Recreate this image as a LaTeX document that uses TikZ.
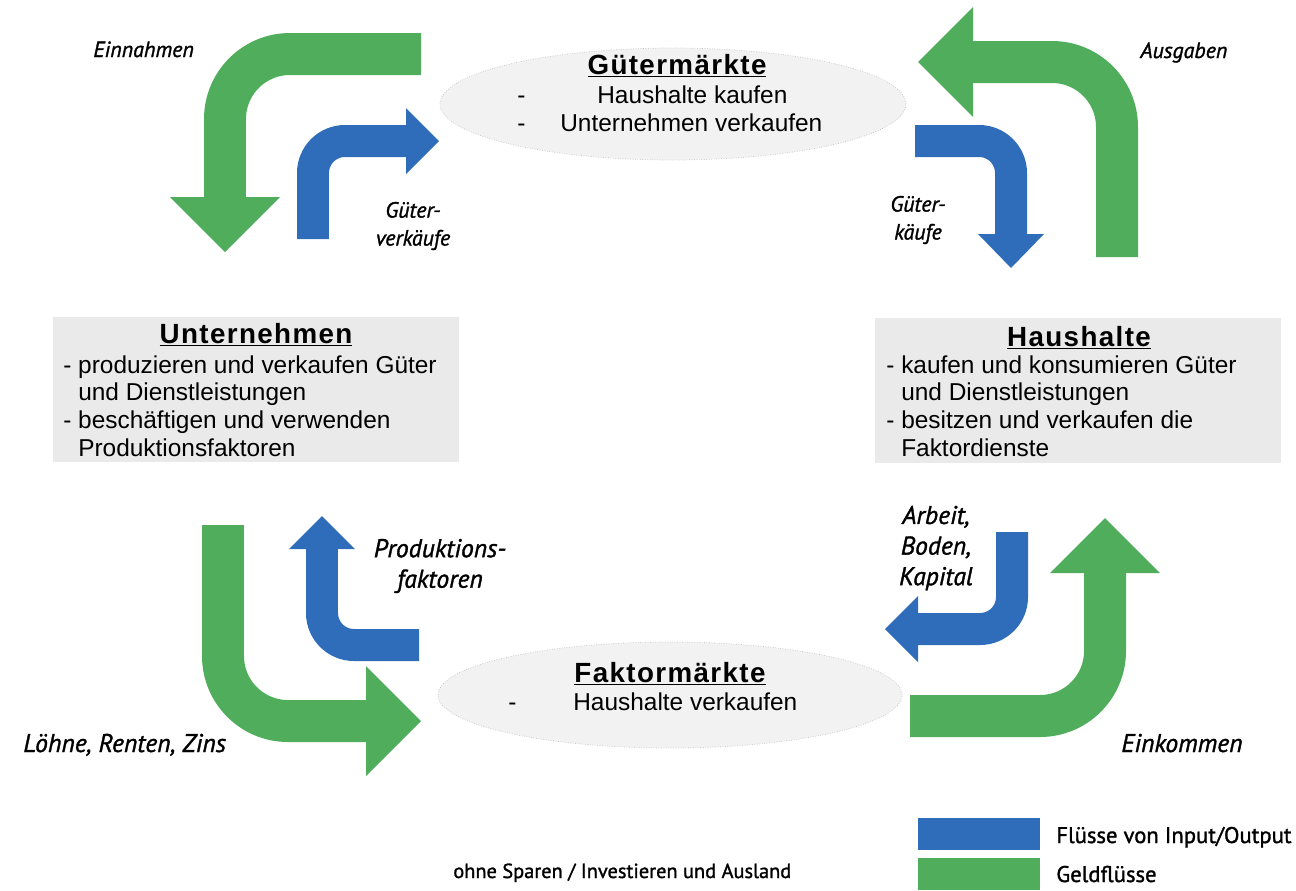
\documentclass[tikz,border=0pt]{standalone}
\usepackage{fontspec}
\setmainfont{Liberation Sans}
\newfontfamily\gillfont{PT Sans}[FakeBold=1.3]
\newfontfamily\titlefont{Liberation Sans}[LetterSpace=5]
\usetikzlibrary{calc,positioning,shapes.geometric}
\definecolor{geldgreen}{HTML}{4FAD5B}
\definecolor{flowblue}{HTML}{2F6DBA}
\definecolor{boxgray}{HTML}{EAEAEA}
\definecolor{marktgray}{HTML}{F2F2F2}

\begin{document}
\begin{tikzpicture}[
  x=0.02cm,y=-0.02cm,
  geld/.style={draw=geldgreen,line width=0.84cm,rounded corners=1.3cm},
  flow/.style={draw=flowblue,line width=0.64cm,rounded corners=0.64cm},
  geldhead/.style={fill=geldgreen},
  flowhead/.style={fill=flowblue},
  markt/.style={ellipse,fill=marktgray,draw=black!25,densely dotted,inner sep=0pt},
  sektor/.style={rectangle,fill=boxgray,inner sep=0pt,minimum width=8.12cm,minimum height=2.9cm},
  titel/.style={font=\titlefont\bfseries\fontsize{15.8}{17}\selectfont,inner sep=0pt,anchor=base},
  body/.style={font=\fontsize{13.9}{15.5}\selectfont,inner sep=0pt,anchor=base west},
  klein/.style={font=\gillfont\itshape\fontsize{12.5}{15.9}\selectfont,inner sep=0pt,align=center},
  gross/.style={font=\gillfont\itshape\fontsize{14.6}{17.4}\selectfont,inner sep=0pt,align=center},
  legende/.style={font=\gillfont\fontsize{12.9}{15}\selectfont,inner sep=0pt,anchor=base west},
  ]

  \useasboundingbox (0,0) rectangle (1296,890);

  %maerkte
  \node (gm) [markt,minimum width=9.32cm,minimum height=2.24cm] at (673,104) {};
  \node (gm_titel) [titel] at (677,74) {\underline{Gütermärkte}};
  \node (gm_d1) [body] at (517,103) {-};
  \node (gm_l1) [body] at (597,103) {Haushalte kaufen};
  \node (gm_d2) [body] at (517,131) {-};
  \node (gm_l2) [body] at (560,131) {Unternehmen verkaufen};

  \node (fm) [markt,minimum width=9.28cm,minimum height=2.12cm] at (670,695) {};
  \node (fm_titel) [titel] at (670,682) {\underline{Faktormärkte}};
  \node (fm_d1) [body] at (508,710) {-};
  \node (fm_l1) [body] at (573,710) {Haushalte verkaufen};

  %sektoren
  \node (untern) [sektor] at (256,389.5) {};
  \node (untern_titel) [titel] at (256,343) {\underline{Unternehmen}};
  \foreach \zeile [count=\i from 0] in {{- produzieren und verkaufen Güter},{\hphantom{- }und Dienstleistungen},{- beschäftigen und verwenden},{\hphantom{- }Produktionsfaktoren}}
  {
    \node (untern_\i) [body] at (63,373+27.7*\i) {\zeile};
  }

  \node (haus) [sektor] at (1078,390.5) {};
  \node (haus_titel) [titel] at (1079,346) {\underline{Haushalte}};
  \foreach \zeile [count=\i from 0] in {{- kaufen und konsumieren Güter},{\hphantom{- }und Dienstleistungen},{- besitzen und verkaufen die},{\hphantom{- }Faktordienste}}
  {
    \node (haus_\i) [body] at (886,373+27.7*\i) {\zeile};
  }

  %einnahmen
  \draw[geld] (421,54) -- (225,54) -- (225,199);
  \fill[geldhead] (170,197) -- (225,252) -- (280,197) -- cycle;
  \node (einnahmen) [klein,anchor=base west] at (93,57) {Einnahmen};

  %gueterverkaeufe
  \draw[flow] (313,239) -- (313,141) -- (408,141);
  \fill[flowhead] (406,108) -- (439,141) -- (406,174) -- cycle;
  \node (gverk) [klein] at (413,226) {Güter-\\verkäufe};

  %ausgaben
  \draw[geld] (1117,257) -- (1117,62) -- (971,62);
  \fill[geldhead] (973,7) -- (918,62) -- (973,117) -- cycle;
  \node (ausgaben) [klein,anchor=base west] at (1140,58) {Ausgaben};

  %gueterkaeufe
  \draw[flow] (915,141) -- (1011,141) -- (1011,236);
  \fill[flowhead] (978,234) -- (1011,268) -- (1044,234) -- cycle;
  \node (gkauf) [klein] at (918,220) {Güter-\\käufe};

  %loehne
  \draw[geld] (223,525) -- (223,721) -- (368,721);
  \fill[geldhead] (366,666) -- (421,721) -- (366,776) -- cycle;
  \node (loehne) [gross,anchor=base west] at (23,752) {Löhne, Renten, Zins};

  %produktionsfaktoren
  \draw[flow] (419,645) -- (322,645) -- (322,547);
  \fill[flowhead] (289,549) -- (322,516) -- (355,549) -- cycle;
  \node (pfakt) [gross] at (440,566) {Produktions-\\faktoren};

  %arbeit
  \draw[flow] (1012,532) -- (1012,629) -- (916,629);
  \fill[flowhead] (918,596) -- (885,629) -- (918,662) -- cycle;
  \node (abk) [gross] at (936,548) {Arbeit,\\Boden,\\Kapital};

  %einkommen
  \draw[geld] (910,716) -- (1105,716) -- (1105,572);
  \fill[geldhead] (1050,573) -- (1105,518) -- (1160,573) -- cycle;
  \node (einkommen) [gross,anchor=base west] at (1121,752) {Einkommen};

  %legende
  \node (fussnote) [legende,font=\gillfont\fontsize{11.6}{13}\selectfont] at (453,878) {ohne Sparen / Investieren und Ausland};
  \node (leg_flow) [rectangle,fill=flowblue,inner sep=0pt,minimum width=2.44cm,minimum height=0.64cm] at (979,834) {};
  \node (leg_flow_txt) [legende] at (1056,843) {Flüsse von Input/Output};
  \node (leg_geld) [rectangle,fill=geldgreen,inner sep=0pt,minimum width=2.44cm,minimum height=0.64cm] at (979,874) {};
  \node (leg_geld_txt) [legende] at (1056,882) {Geldflüsse};

\end{tikzpicture}
\end{document}
